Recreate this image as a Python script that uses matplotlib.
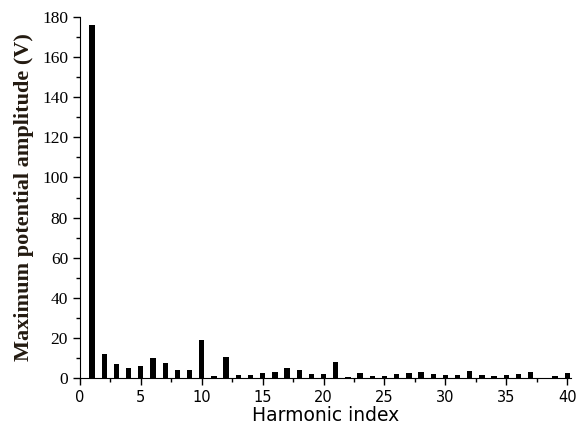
import matplotlib
matplotlib.use("Agg")
import matplotlib.pyplot as plt
from matplotlib.ticker import MultipleLocator

# harmonic amplitudes (V)
harmonics = list(range(1, 41))
amplitude = [176.0, 12.2, 6.8, 5.0, 6.0, 10.2, 7.3, 4.1, 4.1, 19.0,
             0.8, 10.7, 1.5, 1.5, 2.4, 2.9, 5.0, 3.9, 2.1, 2.0,
             7.8, 0.5, 2.6, 1.1, 0.8, 2.1, 2.6, 3.2, 2.1, 1.6,
             1.6, 3.7, 1.6, 1.1, 1.6, 2.1, 3.1, 0.0, 1.1, 2.6]

fig = plt.figure(figsize=(5.79, 4.37), dpi=100)
ax = fig.add_axes([0.138, 0.135, 0.848, 0.826])
ax.bar(harmonics, amplitude, width=0.44, color="black")

ax.set_xlim(0, 40.3)
ax.set_ylim(0, 180)
ax.xaxis.set_major_locator(MultipleLocator(5))
ax.xaxis.set_minor_locator(MultipleLocator(2.5))
ax.yaxis.set_major_locator(MultipleLocator(20))
ax.yaxis.set_minor_locator(MultipleLocator(10))
for s in ("top", "right"):
    ax.spines[s].set_visible(False)
ax.tick_params(which="major", length=5, width=1)
ax.tick_params(which="minor", length=3, width=1)

for lab in ax.get_yticklabels():
    lab.set_fontfamily("Liberation Serif")
    lab.set_fontsize(12.5)
for lab in ax.get_xticklabels():
    lab.set_fontfamily("DejaVu Sans")
    lab.set_fontsize(10.5)

ax.set_xlabel("Harmonic index", fontsize=13.5, family="DejaVu Sans", labelpad=1)
ax.set_ylabel("Maximum potential amplitude (V)", fontsize=16, family="Liberation Serif",
              fontweight="bold", color="#231a10", labelpad=6)

fig.savefig("out.png", dpi=100)
